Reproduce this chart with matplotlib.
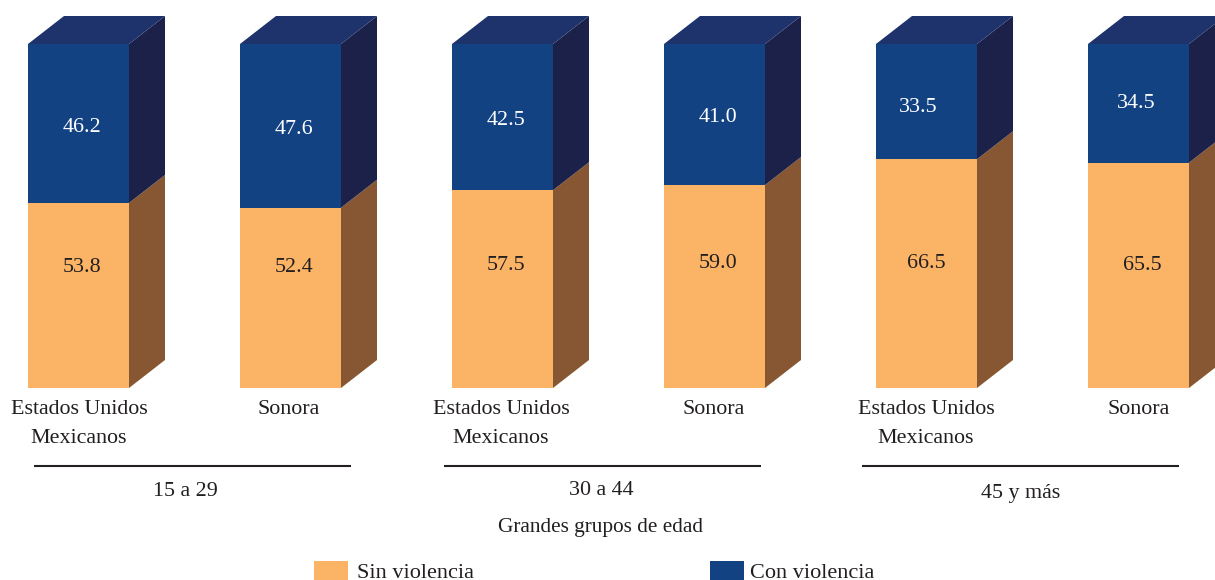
import matplotlib
matplotlib.use("Agg")
import matplotlib.pyplot as plt
from matplotlib.patches import Polygon, Rectangle

# ---- datos ----
paises = ["Estados Unidos\nMexicanos", "Sonora"] * 3
grupos = ["15 a 29", "30 a 44", "45 y más"]
sin_violencia = [53.8, 52.4, 57.5, 59.0, 66.5, 65.5]
con_violencia = [46.2, 47.6, 42.5, 41.0, 33.5, 34.5]
titulo_x = "Grandes grupos de edad"
leyenda = ["Sin violencia", "Con violencia"]

# ---- posiciones en pixeles ----
xs = [28, 240, 452, 664, 876, 1088]
centros_sin = [(82, 265), (294, 265), (506, 263), (718, 261), (926, 261), (1142, 263)]
centros_con = [(82, 125), (294, 127), (506, 118), (718, 115), (918, 105), (1136, 101)]
centros_pais = [79, 289, 501, 714, 926, 1139]
lineas = [(34, 351), (444, 761), (862, 1179)]
centros_grupo = [(185, 489), (601, 488), (1021, 491)]

TEXTO = "#231f20"
C_SIN, C_SIN_LADO = "#fbb466", "#875733"
C_CON, C_CON_LADO, C_CON_TOP = "#134283", "#1c2149", "#1e326c"

W, H = 1215, 580
Y0, ESCALA = 388, 3.44      # pixel de la base, pixeles por punto porcentual
ANCHO, DX, DY = 101, 36, 28 / ESCALA
AJUSTE = 2.5                # el centro del texto queda algo alto

plt.rcParams["font.family"] = ["Liberation Serif", "DejaVu Serif"]
plt.rcParams["font.size"] = 15.8

fig = plt.figure(figsize=(W / 100, H / 100), dpi=100)
ax = fig.add_axes([0, 0, 1, 1])
ax.set_xlim(0, W)
ax.set_ylim((Y0 - H) / ESCALA, Y0 / ESCALA)
ax.axis("off")


def yv(py):
    # pixel vertical (desde arriba) a coordenada de datos
    return (Y0 - py) / ESCALA


ax.bar(xs, sin_violencia, ANCHO, align="edge", color=C_SIN, linewidth=0)
ax.bar(xs, con_violencia, ANCHO, bottom=sin_violencia, align="edge", color=C_CON, linewidth=0)

for x, a, b in zip(xs, sin_violencia, con_violencia):
    r = x + ANCHO
    t = a + b
    ax.add_patch(Polygon([(r, 0), (r + DX, DY), (r + DX, a + DY), (r, a)], fc=C_SIN_LADO, lw=0))
    ax.add_patch(Polygon([(r, a), (r + DX, a + DY), (r + DX, t + DY), (r, t)], fc=C_CON_LADO, lw=0))
    ax.add_patch(Polygon([(x, t), (r, t), (r + DX, t + DY), (x + DX, t + DY)], fc=C_CON_TOP, lw=0))

for (cx, cy), a in zip(centros_sin, sin_violencia):
    ax.text(cx, yv(cy + AJUSTE), f"{a:.1f}", ha="center", va="center", color=TEXTO)
for (cx, cy), b in zip(centros_con, con_violencia):
    ax.text(cx, yv(cy + AJUSTE), f"{b:.1f}", ha="center", va="center", color="white")

for cx, pais in zip(centros_pais, paises):
    ax.text(cx, yv(400), pais, ha="center", va="top", linespacing=1.68, color=TEXTO)

for (x1, x2), (cx, cy), g in zip(lineas, centros_grupo, grupos):
    ax.plot([x1, x2], [yv(466), yv(466)], color=TEXTO, lw=1.5, solid_capstyle="butt")
    ax.text(cx, yv(cy + AJUSTE), g, ha="center", va="center", color=TEXTO)

ax.text(600, yv(525 + AJUSTE), titulo_x, ha="center", va="center", fontsize=15.3, color=TEXTO)

# leyenda
for x, col, txt, xt in zip([314, 710], [C_SIN, C_CON], leyenda, [357, 750]):
    ax.add_patch(Rectangle((x, yv(580)), 34, yv(561) - yv(580), fc=col, lw=0))
    ax.text(xt, yv(571 + AJUSTE), txt, ha="left", va="center", fontsize=16, color=TEXTO)

fig.savefig("out.png", dpi=100)
